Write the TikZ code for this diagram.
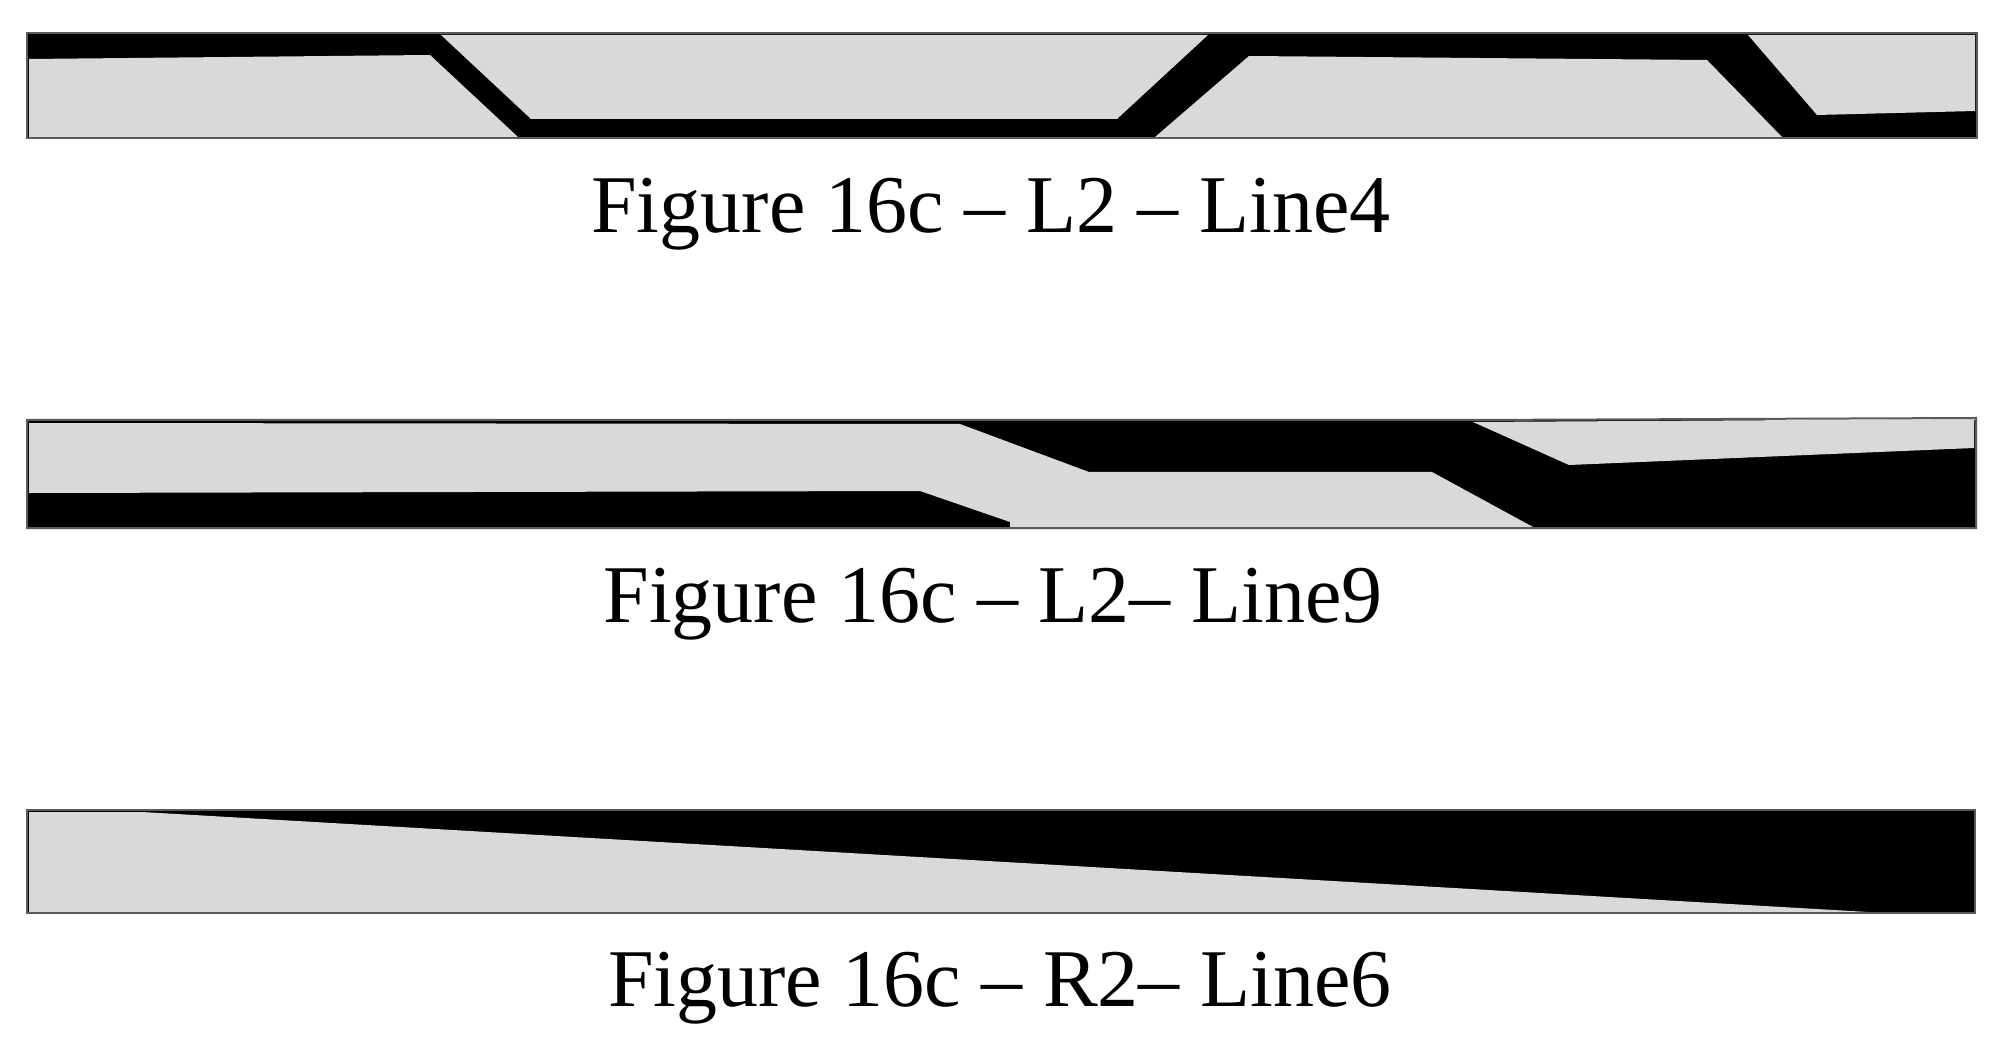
\documentclass[tikz,border=0pt]{standalone}
\usepackage{fontspec}
\setmainfont{Liberation Serif}
\begin{document}
\begin{tikzpicture}
                [x=0.5pt,y=-0.5pt,
                metal/.style={fill=black,draw=none},
                web/.style={fill=webgray,draw=none},
                outline/.style={draw=framegray,line width=1pt},
                caption/.style={anchor=base,font=\fontsize{41}{41}\selectfont,inner sep=0pt}]
                \definecolor{webgray}{HTML}{D9D9D9}
                \definecolor{framegray}{HTML}{5A5A5A}
                \useasboundingbox (0,0) rectangle (2006,1042);
                % Line4
                \path[metal] (27,33) rectangle (1977,138);
                \path[web] (29,59) -- (430,55) -- (518,137) -- (29,137) -- cycle;
                \path[web] (441,35) -- (531,119) -- (1117,119) -- (1208,35) -- cycle;
                \path[web] (1155,137) -- (1249,56) -- (1707,60) -- (1782,137) -- cycle;
                \path[web] (1748,35) -- (1817,115) -- (1975,111) -- (1975,35) -- cycle;
                \draw[outline] (27,33) rectangle (1977,138);
                \node[caption] (caption4) at (991,233) {Figure 16c -- L2 -- Line4};
                % Line9
                \path[metal] (27,420) rectangle (1976,528);
                \path[web] (29,423) -- (960,424) -- (1089,472) -- (1432,472) -- (1533,527)
                        -- (1010,527) -- (1010,522) -- (920,491) -- (29,493) -- cycle;
                \path[web] (1473,422) -- (1569,465) -- (1974,448) -- (1974,419) -- cycle;
                \draw[outline] (27,420) -- (1470,420) -- (1976,418) -- (1976,528) -- (27,528) -- cycle;
                \node[caption] (caption9) at (993,622) {Figure 16c -- L2-- Line9};
                % Line6
                \path[metal] (27,810) rectangle (1975,913);
                \path[web] (29,812) -- (142,812) -- (1868,912) -- (29,912) -- cycle;
                \draw[outline] (27,810) rectangle (1975,913);
                \node[caption] (caption6) at (1000,1006) {Figure 16c -- R2-- Line6};
            \end{tikzpicture}
\end{document}
